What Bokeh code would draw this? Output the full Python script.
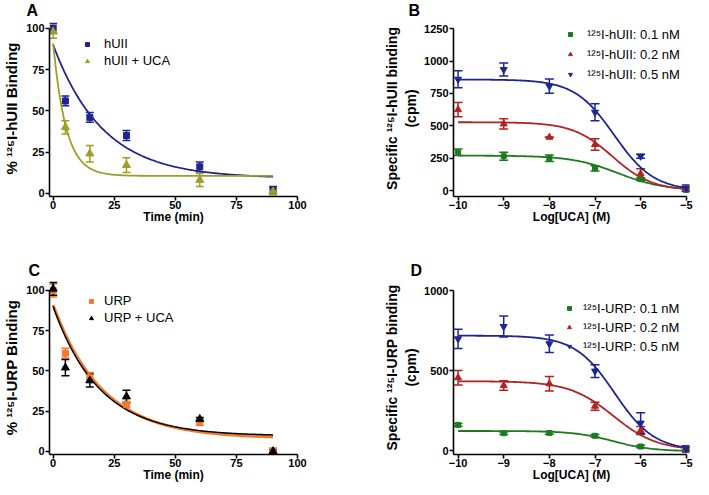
import numpy as np
from bokeh.plotting import figure
from bokeh.layouts import column, row
from bokeh.models import (ColumnDataSource, Whisker, TeeHead, FixedTicker, Legend,
                          LegendItem, Range1d)
from bokeh.embed import file_html
from bokeh.resources import INLINE

FONT = "Liberation Sans"

# ---------------- Panel A : dissociation of 125I-hUII ----------------
time_min = [0, 5, 15, 30, 60, 90]
huii = [100, 56, 46, 35, 16, 2]
huii_err = [3, 3, 3, 3, 3, 2]
huii_uca = [98, 40, 24, 17, 8, 1]
huii_uca_err = [4, 4, 5, 4.5, 4, 2]
# one-phase decay fit parameters: [Y0, plateau, K]
fit_huii = [90, 9.0, 0.049]
fit_huii_uca = [91, 10.5, 0.19]

# ---------------- Panel C : dissociation of 125I-URP ----------------
urp = [100, 61, 46, 29, 18, 0]
urp_err = [4, 3, 3, 2, 2, 2]
urp_uca = [101, 52, 44, 34, 20, 0]
urp_uca_err = [4, 5, 4, 4, 1, 1]
fit_urp = [91, 8.0, 0.050]
fit_urp_uca = [90, 9.5, 0.053]

time_ticks = [0, 25, 50, 75, 100]
pct_ticks = [0, 25, 50, 75, 100]

# ---------------- Panels B and D : competition by UCA ----------------
log_uca = [-10, -9, -8, -7, -6, -5]
log_ticks = [-10, -9, -8, -7, -6, -5]
log_tick_labels = ["\u221210", "\u22129", "\u22128", "\u22127", "\u22126", "\u22125"]

b_01 = [296, 265, 250, 172, 88, 5]
b_01_err = [25, 30, 25, 20, 10, 10]
b_02 = [625, 515, 412, 356, 129, 13]
b_02_err = [55, 40, 0, 45, 40, 15]
b_05 = [860, 935, 806, 605, 265, 18]
b_05_err = [65, 50, 55, 65, 15, 25]
# sigmoidal fit parameters: [top, bottom, logIC50, hill]
fit_b_01 = [270, 0, -6.5, 0.85]
fit_b_02 = [528, 0, -6.62, 1.0]
fit_b_05 = [858, 0, -6.58, 1.0]
b_ticks = [0, 250, 500, 750, 1000, 1250]

d_01 = [160, 108, 110, 92, 25, 2]
d_01_err = [8, 8, 8, 8, 8, 5]
d_02 = [455, 406, 417, 277, 125, 10]
d_02_err = [45, 30, 45, 25, 25, 10]
d_05 = [698, 775, 667, 496, 171, 10]
d_05_err = [60, 65, 55, 40, 65, 20]
fit_d_01 = [122, -5, -6.6, 1.0]
fit_d_02 = [433, 0, -6.6, 0.9]
fit_d_05 = [718, 0, -6.57, 1.0]
d_ticks = [0, 500, 1000]

BLUE = "#1f2590"
OLIVE = "#9e9e24"
GREEN = "#1f7a1f"
RED = "#b22222"
ORANGE = "#f07a2e"
BLACK = "#000000"


def decay(params, t):
    y0, plateau, k = params
    return plateau + (y0 - plateau) * np.exp(-k * t)


def sigmoid(params, x):
    top, bottom, logic50, hill = params
    return bottom + (top - bottom) / (1 + 10 ** (hill * (x - logic50)))


def make_fig(width, height, xr, yr, left, right, top, bottom, letter, offset):
    p = figure(width=width, height=height, x_range=Range1d(*xr), y_range=Range1d(*yr),
               output_backend="svg", toolbar_location=None,
               min_border_left=left, min_border_right=right,
               min_border_top=top, min_border_bottom=bottom)
    p.outline_line_color = None
    p.xgrid.visible = False
    p.ygrid.visible = False
    p.background_fill_color = "white"
    p.title.text = letter
    p.title.align = "left"
    p.title.offset = offset
    p.title.standoff = 0
    p.title.vertical_align = "top"
    p.title.text_font = FONT
    p.title.text_font_style = "bold"
    p.title.text_font_size = "16px"
    p.title.text_color = "black"
    for ax in (p.xaxis[0], p.yaxis[0]):
        ax.axis_line_width = 1.6
        ax.axis_line_color = "black"
        ax.major_tick_line_width = 1.6
        ax.major_tick_in = 0
        ax.major_tick_out = 4
        ax.minor_tick_in = 0
        ax.minor_tick_out = 0
        ax.major_label_text_font = FONT
        ax.major_label_text_font_style = "bold"
        ax.major_label_text_font_size = "11px"
        ax.major_label_text_color = "black"
        ax.axis_label_text_font = FONT
        ax.axis_label_text_font_style = "bold"
        ax.axis_label_text_color = "black"
    p.xaxis[0].major_label_standoff = 0
    p.xaxis[0].axis_label_standoff = -2
    p.yaxis[0].major_label_standoff = 1
    p.xaxis[0].axis_label_text_font_size = "12px"
    p.yaxis[0].axis_label_text_font_size = "14px"
    return p


def add_series(p, x, y, err, color, marker, size, cap):
    src = ColumnDataSource(dict(x=x, y=y,
                                upper=[a + b for a, b in zip(y, err)],
                                lower=[a - b for a, b in zip(y, err)]))
    w = Whisker(source=src, base="x", upper="upper", lower="lower",
                line_color=color, line_width=1.5,
                upper_head=TeeHead(size=cap, line_color=color, line_width=1.5),
                lower_head=TeeHead(size=cap, line_color=color, line_width=1.5))
    p.add_layout(w)
    r = p.scatter("x", "y", source=src, marker=marker, size=size,
                  fill_color=color, line_color=color)
    return r


def add_legend(p, items, loc, gh, spacing, standoff, fsize):
    lg = Legend(items=[LegendItem(label=l, renderers=[r]) for l, r in items],
                location=loc, glyph_width=10, glyph_height=gh, label_height=gh,
                spacing=spacing, label_standoff=standoff, padding=0, margin=0,
                border_line_color=None, background_fill_alpha=0,
                label_text_font=FONT, label_text_font_size=fsize,
                label_text_color="black")
    p.add_layout(lg)


tA = np.linspace(0, 90, 181)
xB = np.linspace(-10, -5, 201)

# ---------- A ----------
pA = make_fig(344, 250, (-1.5, 100), (-2, 104.8), 46, 47, 20, 54, "A", -23)
pA.xaxis.ticker = FixedTicker(ticks=time_ticks)
pA.yaxis.ticker = FixedTicker(ticks=pct_ticks)
pA.yaxis.bounds = (-2, 100)
pA.xaxis.axis_label = "Time (min)"
pA.yaxis.axis_label = "% \u00b9\u00b2\u2075I-hUII Binding"
pA.yaxis.axis_label_standoff = 3
pA.yaxis.axis_label_text_font_size = "15px"
pA.line(tA, decay(fit_huii, tA), line_color=BLUE, line_width=1.8)
pA.line(tA, decay(fit_huii_uca, tA), line_color=OLIVE, line_width=1.8)
rA1 = add_series(pA, time_min, huii, huii_err, BLUE, "square", 6, 8)
rA2 = add_series(pA, time_min, huii_uca, huii_uca_err, OLIVE, "triangle", 8, 8)
add_legend(pA, [("hUII", rA1), ("hUII + UCA", rA2)], (33, 128), 14, 2, 12, "13px")

# ---------- B ----------
pB = make_fig(349, 250, (-10.1, -4.93), (-46, 1314), 109, 4, 20, 54, "B", -45)
pB.xaxis.ticker = FixedTicker(ticks=log_ticks)
pB.xaxis.major_label_overrides = dict(zip(log_ticks, log_tick_labels))
pB.yaxis.ticker = FixedTicker(ticks=b_ticks)
pB.yaxis.bounds = (-46, 1250)
pB.xaxis.bounds = (-10.1, -5)
pB.xaxis.axis_label = "Log[UCA] (M)"
pB.yaxis.axis_label = "Specific \u00b9\u00b2\u2075I-hUII binding\n(cpm)"
pB.yaxis.axis_label_standoff = 2
for fp, c in ((fit_b_01, GREEN), (fit_b_02, RED), (fit_b_05, BLUE)):
    pB.line(xB, sigmoid(fp, xB), line_color=c, line_width=1.8)
rB1 = add_series(pB, log_uca, b_01, b_01_err, GREEN, "square", 5, 9)
rB2 = add_series(pB, log_uca, b_02, b_02_err, RED, "triangle", 7, 9)
rB3 = add_series(pB, log_uca, b_05, b_05_err, BLUE, "inverted_triangle", 7, 9)
add_legend(pB, [("\u00b9\u00b2\u2075I-hUII: 0.1 nM", rB1),
                ("\u00b9\u00b2\u2075I-hUII: 0.2 nM", rB2),
                ("\u00b9\u00b2\u2075I-hUII: 0.5 nM", rB3)], (112, 114), 16, 4, 12, "13px")

# ---------- C ----------
pC = make_fig(344, 244, (-1.5, 100), (-2, 106.2), 46, 47, 30, 40, "C", -21)
pC.xaxis.ticker = FixedTicker(ticks=time_ticks)
pC.yaxis.ticker = FixedTicker(ticks=pct_ticks)
pC.yaxis.bounds = (-2, 100)
pC.xaxis.axis_label = "Time (min)"
pC.yaxis.axis_label = "% \u00b9\u00b2\u2075I-URP Binding"
pC.yaxis.axis_label_standoff = 3
pC.yaxis.axis_label_text_font_size = "15px"
pC.line(tA, decay(fit_urp, tA), line_color=ORANGE, line_width=3)
pC.line(tA, decay(fit_urp_uca, tA), line_color=BLACK, line_width=1.5)
rC1 = add_series(pC, time_min, urp, urp_err, ORANGE, "square", 6, 8)
rC2 = add_series(pC, time_min, urp_uca, urp_uca_err, BLACK, "triangle", 8, 8)
add_legend(pC, [("URP", rC1), ("URP + UCA", rC2)], (37, 129), 14, 2, 8, "13px")

# ---------- D ----------
pD = make_fig(349, 244, (-10.1, -4.93), (-25, 1062.5), 109, 4, 30, 40, "D", -43)
pD.xaxis.ticker = FixedTicker(ticks=log_ticks)
pD.xaxis.major_label_overrides = dict(zip(log_ticks, log_tick_labels))
pD.yaxis.ticker = FixedTicker(ticks=d_ticks)
pD.yaxis.bounds = (-25, 1000)
pD.xaxis.bounds = (-10.1, -5)
pD.xaxis.axis_label = "Log[UCA] (M)"
pD.yaxis.axis_label = "Specific \u00b9\u00b2\u2075I-URP binding\n(cpm)"
pD.yaxis.axis_label_standoff = 2
for fp, c in ((fit_d_01, GREEN), (fit_d_02, RED), (fit_d_05, BLUE)):
    pD.line(xB, sigmoid(fp, xB), line_color=c, line_width=1.8)
rD1 = add_series(pD, log_uca, d_01, d_01_err, GREEN, "square", 5, 9)
rD2 = add_series(pD, log_uca, d_02, d_02_err, RED, "triangle", 7, 9)
rD3 = add_series(pD, log_uca, d_05, d_05_err, BLUE, "inverted_triangle", 7, 9)
add_legend(pD, [("\u00b9\u00b2\u2075I-URP: 0.1 nM", rD1),
                ("\u00b9\u00b2\u2075I-URP: 0.2 nM", rD2),
                ("\u00b9\u00b2\u2075I-URP: 0.5 nM", rD3)], (111, 100), 16, 3, 9, "13px")

layout = column(row(pA, pB), row(pC, pD))
open("out.html", "w").write(file_html(layout, INLINE))
